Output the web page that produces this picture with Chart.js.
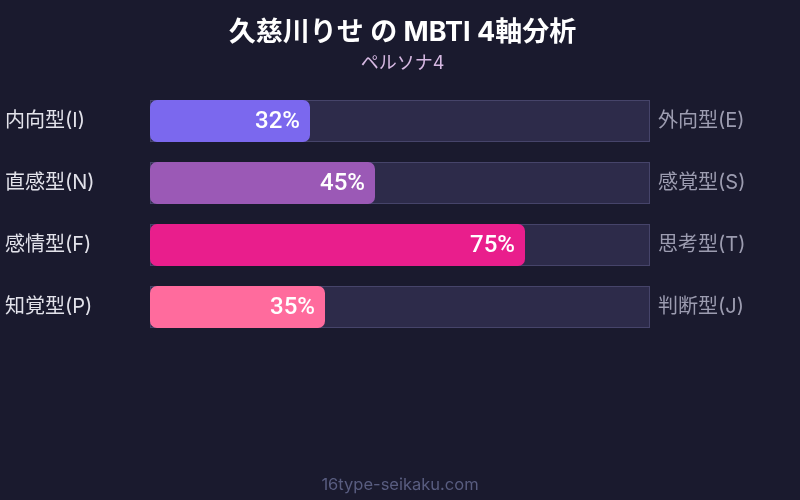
<!DOCTYPE html>
<html>
<head>
<meta charset="utf-8">
<script src="https://cdn.jsdelivr.net/npm/chart.js@4/dist/chart.umd.min.js"></script>
<style>
  html, body { margin: 0; padding: 0; background: #1a1a2e; }
  #wrap { width: 800px; height: 500px; }
</style>
</head>
<body>
<div id="wrap"><canvas id="mbtiChart"></canvas></div>
<script>
const leftLabels = ['内向型(I)', '直感型(N)', '感情型(F)', '知覚型(P)'];
const rightLabels = ['外向型(E)', '感覚型(S)', '思考型(T)', '判断型(J)'];
const scores = [32, 45, 75, 35];
const barColors = ['#7b68ee', '#9b59b6', '#e91e8c', '#ff6b9d'];
const trackMax = 100;

const FONT = "Inter, 'Noto Sans CJK JP', sans-serif";

// value text at the end of each bar
const valueLabels = {
  id: 'valueLabels',
  afterDatasetsDraw(chart) {
    const meta = chart.getDatasetMeta(1);
    const ctx = chart.ctx;
    ctx.save();
    ctx.font = `500 24px Roboto, ${FONT}`;
    ctx.fillStyle = '#ffffff';
    ctx.textAlign = 'right';
    ctx.textBaseline = 'middle';
    meta.data.forEach((bar, i) => {
      ctx.fillText(scores[i] + '%', bar.x - 10, bar.y + 1);
    });
    ctx.restore();
  }
};

// site name at the bottom
const footer = {
  id: 'footer',
  afterDraw(chart) {
    const ctx = chart.ctx;
    ctx.save();
    ctx.font = `16.5px ${FONT}`;
    ctx.fillStyle = '#595d80';
    ctx.textAlign = 'center';
    ctx.textBaseline = 'middle';
    ctx.fillText('16type-seikaku.com', chart.width / 2, chart.height - 15);
    ctx.restore();
  }
};

new Chart(document.getElementById('mbtiChart'), {
  type: 'bar',
  data: {
    labels: leftLabels,
    datasets: [
      {
        label: 'track',
        data: leftLabels.map(() => trackMax),
        backgroundColor: '#2d2b4a',
        borderColor: '#46446a',
        borderWidth: 1,
        borderSkipped: false,
        order: 2
      },
      {
        label: 'score',
        data: scores,
        backgroundColor: barColors,
        borderRadius: 7,
        borderSkipped: false,
        order: 1
      }
    ]
  },
  options: {
    indexAxis: 'y',
    responsive: true,
    maintainAspectRatio: false,
    animation: false,
    layout: { padding: { top: 17, bottom: 162, left: 5, right: 0 } },
    datasets: {
      bar: { grouped: false, barPercentage: 1, categoryPercentage: 0.677 }
    },
    plugins: {
      legend: { display: false },
      tooltip: { enabled: false },
      title: {
        display: true,
        text: '久慈川りせ の MBTI 4軸分析',
        color: '#ffffff',
        font: { family: FONT, size: 27, weight: 'bold' },
        padding: { top: 0, bottom: 0 }
      },
      subtitle: {
        display: true,
        text: 'ペルソナ4',
        color: '#d6b8e2',
        font: { family: FONT, size: 18 },
        padding: { top: 3, bottom: 16 }
      }
    },
    scales: {
      x: { display: false, min: 0, max: trackMax },
      y: {
        position: 'left',
        grid: { display: false, drawTicks: false },
        border: { display: false },
        ticks: {
          color: '#e2e2ea',
          font: { family: FONT, size: 20 },
          crossAlign: 'far',
          padding: 8
        },
        afterFit(scale) { scale.width = 145; }
      },
      y2: {
        type: 'category',
        labels: rightLabels,
        position: 'right',
        grid: { display: false, drawTicks: false },
        border: { display: false },
        ticks: {
          color: '#9c9cb0',
          font: { family: FONT, size: 20 },
          padding: 8
        },
        afterFit(scale) { scale.width = 150; }
      }
    }
  },
  plugins: [valueLabels, footer]
});
</script>
</body>
</html>
